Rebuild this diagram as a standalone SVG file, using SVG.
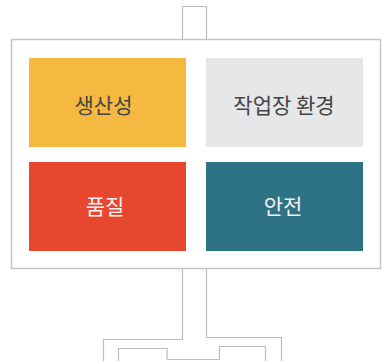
<svg xmlns="http://www.w3.org/2000/svg" width="387" height="361" viewBox="0 0 387 361">
<style>
.ln{fill:none;stroke:#bdbdbd;stroke-width:1.2}
.board{fill:#ffffff;stroke:#c4c4c4;stroke-width:1.5}
.t{font-family:"Noto Sans CJK KR","Noto Sans",sans-serif;font-size:21px;text-anchor:middle}
.dark{fill:#444444}
.light{fill:#f2f2f2}
</style>
<g id="frame">
<path class="ln" d="M182.5,39 V6.5 H206.5 V39"/>
<path class="ln" d="M182.5,269 V339.5 H103.5 V361"/>
<path class="ln" d="M206.5,269 V337.5 H281.5 V361"/>
<path class="ln" d="M118.5,361 V348.5 H167 V359.5 H219.5 V346.5 H265.5 V361"/>
<rect class="board" x="11.5" y="39.5" width="369" height="229"/>
</g>
<g id="node-productivity">
<rect x="29" y="58" width="157" height="89" fill="#F5B841"/>
<text class="t dark" x="103.5" y="112.5">생산성</text>
</g>
<g id="node-environment">
<rect x="206" y="58" width="157" height="89" fill="#E6E7E8"/>
<text class="t dark" x="284" y="112.5">작업장 환경</text>
</g>
<g id="node-quality">
<rect x="29" y="162" width="157" height="89" fill="#E8472F"/>
<text class="t light" x="105" y="213.5">품질</text>
</g>
<g id="node-safety">
<rect x="206" y="162" width="157" height="89" fill="#2E7385"/>
<text class="t light" x="283" y="213.5">안전</text>
</g>
<g id="connectors"></g>
</svg>
